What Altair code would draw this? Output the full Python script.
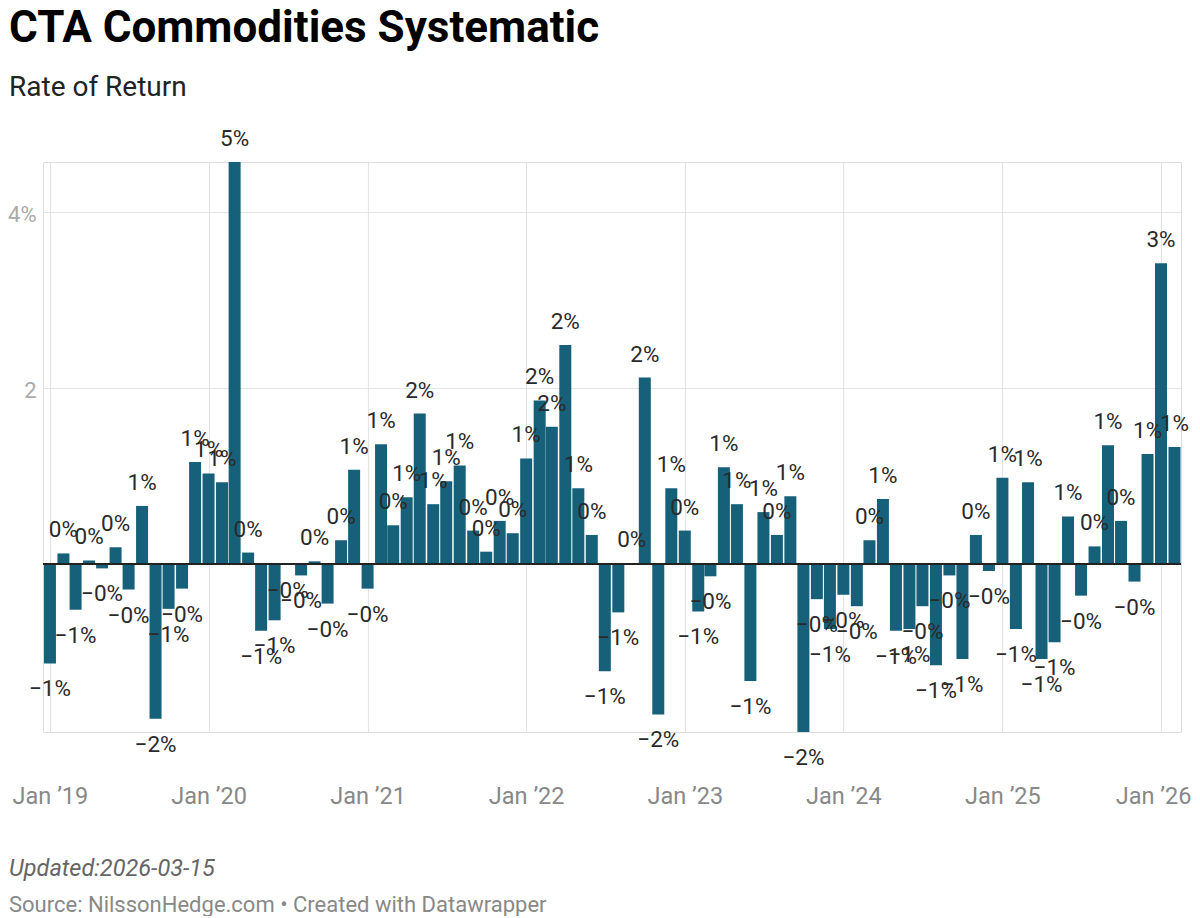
import altair as alt
import pandas as pd

# ---- data (monthly rate of return, %) ----
months = pd.date_range("2019-01-01", "2026-02-01", freq="MS").strftime("%Y-%m-%d").tolist()

ret_2019 = [-1.13, 0.12, -0.52, 0.04, -0.05, 0.19, -0.29, 0.66, -1.76, -0.51, -0.28, 1.16]
ret_2020 = [1.03, 0.93, 4.57, 0.13, -0.76, -0.64, -0.01, -0.13, 0.03, -0.45, 0.27, 1.07]
ret_2021 = [-0.28, 1.36, 0.44, 0.76, 1.71, 0.68, 0.94, 1.12, 0.38, 0.14, 0.49, 0.35]
ret_2022 = [1.20, 1.86, 1.56, 2.49, 0.86, 0.33, -1.22, -0.55, 0.01, 2.12, -1.71, 0.86]
ret_2023 = [0.38, -0.54, -0.14, 1.10, 0.68, -1.33, 0.59, 0.33, 0.77, -1.91, -0.40, -0.74]
ret_2024 = [-0.35, -0.48, 0.27, 0.74, -0.76, -0.74, -0.48, -1.15, -0.13, -1.08, 0.33, -0.08]
ret_2025 = [0.98, -0.74, 0.93, -1.08, -0.89, 0.54, -0.36, 0.20, 1.35, 0.49, -0.20, 1.25]
ret_2026 = [3.42, 1.33]

values = ret_2019 + ret_2020 + ret_2021 + ret_2022 + ret_2023 + ret_2024 + ret_2025 + ret_2026

tick_years = list(range(2019, 2027))

TITLE = "CTA Commodities Systematic"
SUBTITLE = "Rate of Return"
UPDATED = "Updated:2026-03-15"
SOURCE = "Source: NilssonHedge.com \u2022 Created with Datawrapper"

labels = [("\u2212" if v < 0 else "") + f"{int(round(abs(v)))}%" for v in values]
df = pd.DataFrame({"date": months, "v": values, "label": labels})

# ---- chart ----
FONT = "Roboto"
BAR = "#17607a"

x_enc = alt.X(
    "date:T",
    scale=alt.Scale(
        type="utc",
        padding=0,
        domain=[alt.DateTime(year=2018, month=12, date=16, utc=True),
                alt.DateTime(year=2026, month=2, date=16, utc=True)],
    ),
    axis=alt.Axis(
        values=[alt.DateTime(year=y, month=1, date=1, utc=True) for y in tick_years],
        labelExpr="utcFormat(datum.value, '%b \u2019%y')",
        grid=True, gridColor="#e4e4e4", gridWidth=1.2,
        ticks=False, domain=False,
        labelPadding=52, labelFontSize=23.5, labelColor="#888888", labelFont=FONT,
        labelFlush=False, labelOverlap=False, labelBound=False,
        labelOffset={"condition": {"test": "utcyear(datum.value) == 2026", "value": -8},
                     "value": 0},
        title=None,
    ),
)
y_enc = alt.Y(
    "v:Q",
    scale=alt.Scale(nice=False),
    axis=alt.Axis(
        values=[2, 4],
        labelExpr="datum.value == 4 ? '4%' : format(datum.value, 'd')",
        grid=True, gridColor="#e4e4e4", gridWidth=1.2,
        ticks=False, domain=False,
        labelPadding=7, labelFontSize=22, labelColor="#aaaaaa", labelFont=FONT,
        labelAlign="right", labelBaseline="middle", labelOffset=2,
        title=None,
    ),
)

base = alt.Chart(df)

bars = base.mark_bar(width=12, color=BAR).encode(x=x_enc, y=y_enc)

zero = base.mark_rule(color="#222222", strokeWidth=2).encode(y=alt.datum(0))

pos_lab = base.transform_filter("datum.v >= 0").mark_text(
    dy=-16, baseline="alphabetic", fontSize=22.5, font=FONT, color="#2a2a2a"
).encode(x="date:T", y="v:Q", text="label:N")

neg_lab = base.transform_filter("datum.v < 0").mark_text(
    dy=33, baseline="alphabetic", fontSize=22.5, font=FONT, color="#2a2a2a"
).encode(x="date:T", y="v:Q", text="label:N")


def free_text(txt, x, y, size, color, weight="normal", style="normal"):
    return alt.Chart(pd.DataFrame({"t": [txt]})).mark_text(
        align="left", baseline="alphabetic", fontSize=size, font=FONT,
        fontWeight=weight, fontStyle=style, color=color,
    ).encode(x=alt.value(x), y=alt.value(y), text="t:N")


title = free_text(TITLE, -34, -120, 44, "#000000", weight="bold")
subtitle = free_text(SUBTITLE, -34, -66, 28, "#222222")
updated = free_text(UPDATED, -34, 714, 23.5, "#666666", style="italic")
source = free_text(SOURCE, -34, 750, 22, "#888888")

chart = alt.layer(
    bars, zero, pos_lab, neg_lab, title, subtitle, updated, source
).properties(
    width=1138,
    height=570,
    autosize=alt.AutoSizeParams(type="none"),
    padding={"left": 35, "top": 154, "right": 10, "bottom": 184},
    background="#ffffff",
).configure_view(stroke=None).configure(font=FONT)

chart.save("out.html", embed_options={"renderer": "svg", "actions": False})
